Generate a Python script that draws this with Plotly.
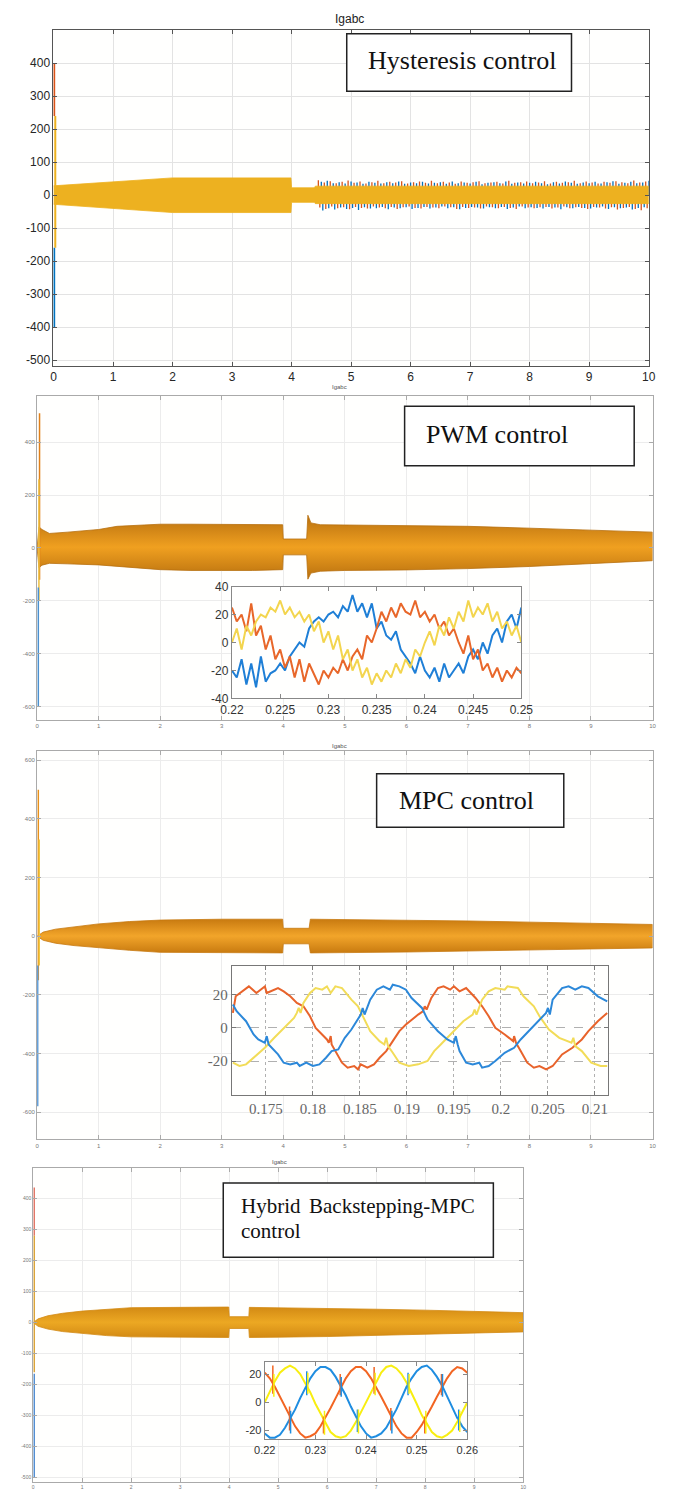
import numpy as np
import plotly.graph_objects as go

W, H = 679, 1497

# ----------------------------------------------------------------- data
main_xticks = [0, 1, 2, 3, 4, 5, 6, 7, 8, 9, 10]

# Panel 1 : Hysteresis control (envelope of the three currents)
hyst_env_t = [0.0, 2.0, 3.99, 4.0, 4.38, 4.4, 10.0]
hyst_env_up = [28, 52, 52, 22, 22, 27, 27]
hyst_env_lo = [-28, -53, -53, -22, -22, -26, -26]
hyst_noise_span = [4.45, 9.95]
hyst_red_top = [45, 38, 42, 36, 40, 44, 37, 41, 35, 39, 43, 36, 40, 38, 42, 35, 39, 41, 37, 43,
                36, 40, 38, 34, 41, 37, 39, 42, 36, 38, 40, 35, 43, 37, 39, 41, 36, 38, 42, 35,
                40, 37, 39, 43, 36, 41, 38, 35, 40, 37, 42, 39, 36, 44, 38, 41]
hyst_blue_top = [40, 43, 36, 39, 35, 41, 38, 34, 40, 37, 35, 39, 36, 41, 34, 38, 36, 40, 35, 37,
                 39, 34, 41, 36, 38, 35, 40, 33, 37, 39, 36, 41, 34, 38, 35, 37, 40, 36, 33, 39,
                 35, 41, 37, 34, 38, 36, 40, 35, 39, 42, 34, 37, 40, 36, 38, 43]
hyst_red_bot = [-38, -42, -35, -40, -37, -43, -36, -39, -41, -35, -38, -40, -36, -42, -37, -35,
                -39, -41, -36, -38, -40, -35, -37, -42, -36, -39, -38, -41, -35, -37, -40, -36,
                -39, -42, -35, -38, -40, -37, -36, -41, -38, -35, -40, -37, -39, -42, -36, -38,
                -41, -37, -44, -39, -36, -42, -46, -40]
hyst_blue_bot = [-47, -40, -44, -38, -42, -39, -45, -37, -41, -40, -36, -43, -38, -40, -37, -42,
                 -39, -36, -41, -38, -35, -40, -37, -43, -39, -36, -38, -41, -37, -40, -36, -42,
                 -38, -35, -40, -37, -39, -41, -36, -38, -43, -37, -40, -36, -39, -41, -38, -35,
                 -42, -37, -40, -38, -44, -39, -37, -45]
hyst_spike_red = [240, 400]
hyst_spike_yel = [-160, 240]
hyst_spike_blue = [-400, -160]

# Panel 2 : PWM control
pwm_env_t = [0.0, 0.03, 0.08, 0.2, 0.5, 1.0, 1.3, 1.6, 2.0, 2.5, 3.0, 3.5, 3.99, 4.0, 4.38,
             4.4, 4.45, 4.6, 5.0, 6.0, 7.0, 8.0, 9.0, 10.0]
pwm_env_up = [0, 80, 70, 55, 60, 70, 82, 85, 90, 90, 90, 90, 88, 34, 34,
              124, 95, 88, 87, 85, 82, 75, 68, 60]
pwm_env_lo = [0, -75, -65, -58, -60, -64, -70, -75, -82, -85, -85, -85, -82, -26, -26,
              -118, -95, -88, -85, -83, -78, -70, -60, -48]
pwm_spike_orange = [-120, 510]
pwm_spike_yel = [-200, 260]
pwm_spike_blue = [-600, -150]

pwm_in_span = [0.22, 0.25]
pwm_in_xticks = [0.22, 0.225, 0.23, 0.235, 0.24, 0.245, 0.25]
pwm_in_xtext = ["0.22", "0.225", "0.23", "0.235", "0.24", "0.245", "0.25"]
pwm_in_yticks = [-40, -20, 0, 20, 40]
pwm_in_blue = [-20, -25, -12, -30, -15, -32, -10, -28, -22, -20, -15, -20, -10, -5, 0, -3, 10,
               15, 18, 15, 20, 22, 18, 26, 22, 34, 22, 28, 18, 28, 10, 15, 5, 2, 8, -5, -10,
               -15, -22, -10, -20, -25, -18, -28, -15, -25, -20, -15, -22, -10, -5, -12, 0, -8,
               5, 10, 0, 15, 20, 10, 25]
pwm_in_orange = [25, 15, 20, 8, 28, 5, 12, -5, 5, -12, -5, -18, -10, -25, -12, -28, -15, -22,
                 -30, -20, -25, -18, -22, -12, -20, -10, -5, -12, 5, 0, 10, 22, 15, 25, 18, 28,
                 22, 20, 30, 18, 22, 15, 20, 10, 15, 5, 10, 0, -8, 5, -12, -5, -20, -15, -25,
                 -18, -28, -20, -25, -18, -22]
pwm_in_yellow = [0, 10, -5, 12, 5, 15, 20, 18, 25, 22, 30, 20, 25, 18, 22, 15, 20, 8, 15, 0, 8,
                 -5, 5, -12, -5, -20, -12, -25, -18, -30, -22, -28, -20, -25, -15, -22, -12,
                 -18, -5, -10, 0, 8, -2, 12, 5, 18, 10, 22, 15, 30, 18, 25, 20, 28, 15, 22, 10,
                 15, 5, 12, 0]

# Panel 3 : MPC control
mpc_env_t = [0.0, 0.1, 0.3, 0.6, 1.0, 1.5, 2.0, 3.0, 3.99, 4.0, 4.42, 4.44, 5.0, 6.0, 7.0,
             8.0, 9.0, 10.0]
mpc_env_up = [0, 14, 24, 32, 42, 50, 55, 58, 58, 27, 27, 58, 57, 55, 52, 48, 44, 40]
mpc_env_lo = [0, -14, -24, -32, -40, -48, -55, -57, -57, -26, -26, -57, -56, -54, -50, -47,
              -44, -40]
mpc_spike_orange = [-150, 500]
mpc_spike_yel = [-100, 330]
mpc_spike_blue = [-580, -100]

mpc_in_span = [0.1714, 0.2114]
mpc_in_xticks = [0.175, 0.18, 0.185, 0.19, 0.195, 0.2, 0.205, 0.21]
mpc_in_xtext = ["0.175", "0.18", "0.185", "0.19", "0.195", "0.2", "0.205", "0.21"]
mpc_in_yticks = [-20, 0, 20]
mpc_in_orange_t = [0.1715, 0.1718, 0.1732, 0.1740, 0.1749, 0.1751, 0.1763, 0.1769, 0.1776,
                   0.1783, 0.1790, 0.1797, 0.1803, 0.1810, 0.1815, 0.1817, 0.1819, 0.1820,
                   0.1824, 0.1831, 0.1837, 0.1844, 0.1848, 0.1851, 0.1858, 0.1865, 0.1871,
                   0.1878, 0.1885, 0.1892, 0.1899, 0.1905, 0.1912, 0.1917, 0.1919, 0.1921,
                   0.1926, 0.1933, 0.1939, 0.1946, 0.1950, 0.1956, 0.1963, 0.1973, 0.1980,
                   0.1987, 0.1994, 0.2004, 0.2013, 0.2014, 0.2016, 0.2021, 0.2028, 0.2035,
                   0.2041, 0.2048, 0.2055, 0.2065, 0.2076, 0.2086, 0.2093, 0.2103, 0.2113]
mpc_in_orange = [9, 19, 25, 21, 25, 21, 24, 22, 19, 15, 13, 7, 0, -4, -7, -9, -5, -10, -14,
                 -21, -24, -23, -25, -22, -24, -22, -18, -14, -8, -2, 2, 5, 8, 10, 13, 11, 18,
                 24, 25, 23, 25, 22, 24, 18, 13, 7, 0, -4, -8, -5, -9, -14, -21, -24, -23, -25,
                 -23, -16, -12, -7, -2, 4, 9]
mpc_in_blue_t = [0.1715, 0.1719, 0.1729, 0.1737, 0.1742, 0.1749, 0.1751, 0.1753, 0.1763,
                 0.1769, 0.1776, 0.1783, 0.1786, 0.1793, 0.1800, 0.1807, 0.1814, 0.1820,
                 0.1827, 0.1834, 0.1841, 0.1848, 0.1851, 0.1853, 0.1855, 0.1861, 0.1868,
                 0.1875, 0.1882, 0.1885, 0.1892, 0.1899, 0.1905, 0.1916, 0.1922, 0.1933,
                 0.1943, 0.1950, 0.1952, 0.1954, 0.1956, 0.1963, 0.1970, 0.1977, 0.1980,
                 0.1987, 0.1994, 0.2004, 0.2014, 0.2021, 0.2031, 0.2041, 0.2048, 0.2050,
                 0.2052, 0.2055, 0.2065, 0.2072, 0.2079, 0.2086, 0.2093, 0.2103, 0.2113]
mpc_in_blue = [14, 10, 4, -4, -7, -9, -5, -10, -16, -21, -22, -21, -23, -21, -23, -22, -18,
               -14, -13, -6, -1, 5, 8, 12, 8, 17, 23, 25, 23, 26, 25, 23, 18, 12, 5, -2, -7,
               -9, -5, -10, -14, -21, -22, -21, -24, -23, -20, -15, -12, -7, -1, 5, 9, 12, 8,
               17, 24, 25, 23, 25, 24, 19, 16]
mpc_in_yellow_t = [0.1715, 0.1722, 0.1729, 0.1735, 0.1749, 0.1759, 0.1769, 0.1780, 0.1783,
                   0.1785, 0.1787, 0.1790, 0.1797, 0.1803, 0.1810, 0.1815, 0.1819, 0.1824,
                   0.1831, 0.1841, 0.1848, 0.1855, 0.1861, 0.1871, 0.1876, 0.1878, 0.1880,
                   0.1885, 0.1892, 0.1902, 0.1912, 0.1922, 0.1929, 0.1936, 0.1950, 0.1960,
                   0.1970, 0.1972, 0.1974, 0.1980, 0.1987, 0.1994, 0.2004, 0.2007, 0.2018,
                   0.2024, 0.2035, 0.2041, 0.2051, 0.2062, 0.2075, 0.2077, 0.2079, 0.2086,
                   0.2096, 0.2106, 0.2113]
mpc_in_yellow = [-21, -23, -22, -19, -12, -6, 0, 6, 9, 12, 9, 15, 21, 24, 23, 25, 21, 25, 24,
                 17, 13, 5, -2, -8, -10, -6, -11, -15, -21, -23, -22, -20, -14, -10, -2, 4, 8,
                 11, 8, 17, 22, 24, 23, 25, 24, 19, 13, 7, -1, -6, -9, -6, -11, -14, -21, -23,
                 -23]

# Panel 4 : Hybrid Backstepping-MPC control
hyb_env_t = [0.0, 0.1, 0.3, 0.6, 1.0, 1.5, 2.0, 3.0, 3.99, 4.0, 4.4, 4.41, 5.0, 6.0, 7.0,
             8.0, 9.0, 10.0]
hyb_env_up = [0, 12, 22, 30, 37, 43, 48, 49, 50, 19, 19, 49, 48, 46, 43, 40, 36, 32]
hyb_env_lo = [0, -12, -21, -29, -35, -42, -46, -47, -48, -19, -19, -48, -47, -45, -42, -38,
              -34, -30]
hyb_spike_red = [280, 435]
hyb_spike_yel = [-160, 280]
hyb_spike_blue = [-500, -165]

hyb_in_span = [0.22, 0.26]
hyb_in_xticks = [0.22, 0.23, 0.24, 0.25, 0.26]
hyb_in_xtext = ["0.22", "0.23", "0.24", "0.25", "0.26"]
hyb_in_yticks = [-20, 0, 20]
hyb_in_orange = [21, 17, 11, 4, -3, -10, -17, -22, -25, -24, -22, -17, -11, -4, 3, 10, 17, 22,
                 25, 25, 22, 17, 11, 4, -3, -10, -17, -22, -25, -25, -21, -16, -10, -3, 4, 11,
                 17, 22, 25, 24, 21]
hyb_in_blue = [-22, -25, -25, -23, -18, -12, -5, 3, 10, 17, 22, 25, 25, 23, 18, 12, 5, -3,
               -10, -17, -22, -25, -24, -22, -18, -12, -5, 3, 11, 17, 22, 25, 26, 23, 18, 12, 4,
               -3, -11, -17, -21]
hyb_in_yellow = [0, 8, 15, 21, 24, 26, 24, 20, 14, 7, -1, -8, -15, -21, -24, -25, -24, -20,
                 -14, -7, 1, 8, 15, 21, 25, 26, 24, 20, 14, 7, -1, -9, -15, -21, -24, -25, -23,
                 -20, -14, -7, 0]
hyb_sp_orange_t = [0.2216, 0.2249, 0.2316, 0.2349, 0.2416, 0.2449, 0.2516, 0.2549]
hyb_sp_orange_lo = [6, -20, -22, 5, 6, -20, -22, 5]
hyb_sp_orange_hi = [26, -3, -10, 20, 25, -4, -10, 20]
hyb_sp_blue_t = [0.2251, 0.2283, 0.2351, 0.2383, 0.2451, 0.2483, 0.2551, 0.2583]
hyb_sp_blue_lo = [-22, 5, 4, -21, -22, 5, 4, -20]
hyb_sp_blue_hi = [-6, 22, 18, -5, -6, 21, 20, -5]
hyb_sp_yel_t = [0.2218, 0.2285, 0.2318, 0.2385, 0.2418, 0.2485, 0.2518, 0.2585]
hyb_sp_yel_lo = [4, 6, -23, -22, 5, 6, -22, -21]
hyb_sp_yel_hi = [20, 21, -6, -5, 21, 20, -6, -6]

# ----------------------------------------------------------------- helpers
def pxx(x):
    return x / W

def pyy(y):
    return 1 - y / H

def band(t, up, lo):
    return list(t) + list(t)[::-1], list(up) + list(lo)[::-1]

def stems(ts, lo, hi):
    xs, ys = [], []
    for t, a, b in zip(ts, lo, hi):
        xs += [t, t, None]
        ys += [a, b, None]
    return xs, ys

fig = go.Figure()

def add_line(x, y, color, xa, ya, width=1.5):
    fig.add_trace(go.Scatter(x=x, y=y, mode="lines", line=dict(color=color, width=width),
                             xaxis=xa, yaxis=ya, hoverinfo="skip", showlegend=False))

def add_band(t, up, lo, xa, ya, edge, mid, solid=False):
    bx, by = band(t, up, lo)
    kw = dict(fillcolor=mid) if solid else dict(
        fillgradient=dict(type="vertical", colorscale=[[0, edge], [0.5, mid], [1, edge]]))
    fig.add_trace(go.Scatter(x=bx, y=by, mode="lines", fill="toself",
                             line=dict(color=edge, width=0.8), xaxis=xa, yaxis=ya,
                             hoverinfo="skip", showlegend=False, **kw))

# ---------------- panel 1
n = len(hyst_red_top)
tr = np.linspace(hyst_noise_span[0], hyst_noise_span[1], n)
tb = tr + 0.05
sx, sy = stems(tr, [0] * n, hyst_red_top)
add_line(sx, sy, "#D95319", "x", "y", 1.3)
sx, sy = stems(tb, [0] * n, hyst_blue_top)
add_line(sx, sy, "#0072BD", "x", "y", 1.3)
sx, sy = stems(tr + 0.025, [0] * n, hyst_red_bot)
add_line(sx, sy, "#D95319", "x", "y", 1.3)
sx, sy = stems(tb + 0.025, [0] * n, hyst_blue_bot)
add_line(sx, sy, "#0072BD", "x", "y", 1.3)
add_band(hyst_env_t, hyst_env_up, hyst_env_lo, "x", "y", "#EDB120", "#EDB120", solid=True)
add_line([0.012, 0.012], hyst_spike_red, "#D95319", "x", "y", 2)
add_line([0.03, 0.03], hyst_spike_yel, "#EDB120", "x", "y", 2)
add_line([0.012, 0.012], hyst_spike_blue, "#0072BD", "x", "y", 2)

# ---------------- panel 2
add_band(pwm_env_t, pwm_env_up, pwm_env_lo, "x2", "y2", "#B8700F", "#F0A020")
add_line([0.04, 0.04], pwm_spike_orange, "#E0801A", "x2", "y2", 1.5)
add_line([0.03, 0.03], pwm_spike_yel, "#EDC040", "x2", "y2", 1.5)
add_line([0.02, 0.02], pwm_spike_blue, "#4A90D0", "x2", "y2", 1.5)

tp = np.linspace(pwm_in_span[0], pwm_in_span[1], len(pwm_in_blue))
add_line(tp, pwm_in_blue, "#1F7FD6", "x3", "y3", 2)
add_line(tp, pwm_in_orange, "#E8672A", "x3", "y3", 2)
add_line(tp, pwm_in_yellow, "#F3D54E", "x3", "y3", 2)

# ---------------- panel 3
add_band(mpc_env_t, mpc_env_up, mpc_env_lo, "x4", "y4", "#C87A10", "#F2A52A")
add_line([0.02, 0.02], mpc_spike_orange, "#E8901A", "x4", "y4", 1.5)
add_line([0.035, 0.035], mpc_spike_yel, "#F0C840", "x4", "y4", 1.5)
add_line([0.01, 0.01], mpc_spike_blue, "#5A9AD8", "x4", "y4", 1.5)

add_line(mpc_in_orange_t, mpc_in_orange, "#E8632B", "x5", "y5", 2)
add_line(mpc_in_yellow_t, mpc_in_yellow, "#F2DC58", "x5", "y5", 2)
add_line(mpc_in_blue_t, mpc_in_blue, "#2C88D9", "x5", "y5", 2)

# ---------------- panel 4
add_band(hyb_env_t, hyb_env_up, hyb_env_lo, "x6", "y6", "#D38A14", "#ECA823")
add_line([0.02, 0.02], hyb_spike_red, "#E07060", "x6", "y6", 1.5)
add_line([0.02, 0.02], hyb_spike_yel, "#D9A030", "x6", "y6", 1.5)
add_line([0.02, 0.02], hyb_spike_blue, "#4A88D0", "x6", "y6", 1.5)

th = np.linspace(hyb_in_span[0], hyb_in_span[1], len(hyb_in_orange))
add_line(th, hyb_in_orange, "#F26522", "x7", "y7", 2)
add_line(th, hyb_in_blue, "#1F8DE0", "x7", "y7", 2)
add_line(th, hyb_in_yellow, "#F8EE10", "x7", "y7", 2)
sx, sy = stems(hyb_sp_orange_t, hyb_sp_orange_lo, hyb_sp_orange_hi)
add_line(sx, sy, "#F26522", "x7", "y7", 1.5)
sx, sy = stems(hyb_sp_blue_t, hyb_sp_blue_lo, hyb_sp_blue_hi)
add_line(sx, sy, "#1F8DE0", "x7", "y7", 1.5)
sx, sy = stems(hyb_sp_yel_t, hyb_sp_yel_lo, hyb_sp_yel_hi)
add_line(sx, sy, "#F8EE10", "x7", "y7", 1.5)

# ----------------------------------------------------------------- axes
def main_axes(x0, x1, y0, y1, yr, ytv, fs, fc, lc, gc, ax_id):
    xa = dict(domain=[pxx(x0), pxx(x1)], range=[0, 10], tickvals=main_xticks,
              ticktext=[str(v) for v in main_xticks], showgrid=True, gridcolor=gc,
              gridwidth=1, zeroline=False, showline=True, linecolor=lc, linewidth=1,
              mirror="ticks", ticks="inside", ticklen=4, tickcolor=lc,
              tickfont=dict(family="Liberation Sans, Arial", size=fs, color=fc),
              anchor="y" + ax_id)
    ya = dict(domain=[pyy(y1), pyy(y0)], range=yr, tickvals=ytv,
              ticktext=[str(v) for v in ytv], showgrid=True, gridcolor=gc, gridwidth=1,
              zeroline=False, showline=True, linecolor=lc, linewidth=1, mirror="ticks",
              ticks="inside", ticklen=4, tickcolor=lc,
              tickfont=dict(family="Liberation Sans, Arial", size=fs, color=fc),
              anchor="x" + ax_id)
    return xa, ya

def inset_axes(x0, x1, y0, y1, xr, xtv, xtt, yr, ytv, fs, fc, lc, family, ax_id,
               grid=False, griddash="dot"):
    xa = dict(domain=[pxx(x0), pxx(x1)], range=xr, tickvals=xtv, ticktext=xtt,
              showgrid=grid, gridcolor="#b0b0b0", griddash=griddash, zeroline=False,
              showline=True, linecolor=lc, linewidth=1.2, mirror="ticks", ticks="inside",
              ticklen=4, tickcolor=lc, tickfont=dict(family=family, size=fs, color=fc),
              anchor="y" + ax_id)
    ya = dict(domain=[pyy(y1), pyy(y0)], range=yr, tickvals=ytv,
              ticktext=[str(v) for v in ytv], showgrid=grid, gridcolor="#b0b0b0",
              griddash="dash", zeroline=False, showline=True, linecolor=lc, linewidth=1.2,
              mirror="ticks", ticks="inside", ticklen=4, tickcolor=lc,
              tickfont=dict(family=family, size=fs, color=fc), anchor="x" + ax_id)
    return xa, ya

ax = {}
ax["xaxis"], ax["yaxis"] = main_axes(43, 660, 23, 362, [-517, 501],
                                     [-500, -400, -300, -200, -100, 0, 100, 200, 300, 400],
                                     12, "#262626", "#555555", "#e3e3e3", "")
ax["xaxis"]["anchor"] = "y"
ax["yaxis"]["anchor"] = "x"
ax["xaxis2"], ax["yaxis2"] = main_axes(26, 664, 393, 720, [-652, 574],
                                       [-600, -400, -200, 0, 200, 400],
                                       6, "#777777", "#aaaaaa", "#ececec", "2")
ax["xaxis3"], ax["yaxis3"] = inset_axes(228, 528, 585, 698, pwm_in_span, pwm_in_xticks,
                                        pwm_in_xtext, [-40, 40], pwm_in_yticks, 12,
                                        "#333333", "#888888", "Liberation Sans, Arial", "3")
ax["xaxis4"], ax["yaxis4"] = main_axes(26, 664, 751, 1143, [-693, 632],
                                       [-600, -400, -200, 0, 200, 400, 600],
                                       6, "#777777", "#aaaaaa", "#ececec", "4")
ax["xaxis5"], ax["yaxis5"] = inset_axes(228, 618, 968, 1098, mpc_in_span, mpc_in_xticks,
                                        mpc_in_xtext, [-40.3, 37.3], mpc_in_yticks, 15,
                                        "#666666", "#777777", "Liberation Serif, serif", "5",
                                        grid=True)
ax["xaxis6"], ax["yaxis6"] = main_axes(22, 530, 1172, 1489, [-514, 498],
                                       [-500, -400, -300, -200, -100, 0, 100, 200, 300, 400],
                                       5, "#777777", "#aaaaaa", "#ececec", "6")
ax["xaxis7"], ax["yaxis7"] = inset_axes(262, 472, 1368, 1446, hyb_in_span, hyb_in_xticks,
                                        hyb_in_xtext, [-26.3, 28.4], hyb_in_yticks, 11,
                                        "#333333", "#888888", "Liberation Sans, Arial", "7")

# ----------------------------------------------------------------- boxes & titles
shapes, annos = [], []

def text_box(x0, y0, x1, y1):
    shapes.append(dict(type="rect", xref="paper", yref="paper", x0=pxx(x0), x1=pxx(x1),
                       y0=pyy(y1), y1=pyy(y0), line=dict(color="#222222", width=1.5),
                       fillcolor="white", layer="above"))

def text(x, y, s, size, family="Liberation Serif, Times New Roman, serif", color="#111111",
         xanchor="left"):
    annos.append(dict(x=pxx(x), y=pyy(y), xref="paper", yref="paper", text=s,
                      showarrow=False, xanchor=xanchor, yanchor="middle",
                      font=dict(family=family, size=size, color=color)))

text_box(347, 27, 580, 85)
text(367, 54, "Hysteresis control", 26)
text_box(407, 403, 645, 463)
text(427, 432, "PWM control", 26)
text_box(378, 774, 572, 828)
text(399, 801, "MPC control", 26)
text_box(219, 1187, 499, 1262)
text(235, 1210, "Hybrid", 21)
text(482, 1210, "Backstepping-MPC", 21, xanchor="right")
text(235, 1236, "control", 21)

text(350, 12, "Igabc", 12, family="Liberation Sans, Arial", color="#222222", xanchor="center")
text(340, 384, "Igabc", 6, family="Liberation Sans, Arial", color="#555555", xanchor="center")
text(340, 746, "Igabc", 6, family="Liberation Sans, Arial", color="#555555", xanchor="center")
text(277, 1166, "Igabc", 6, family="Liberation Sans, Arial", color="#555555", xanchor="center")

fig.update_layout(width=W, height=H, autosize=False, margin=dict(l=0, r=0, t=0, b=0),
                  paper_bgcolor="#ffffff", plot_bgcolor="#fffffe", showlegend=False,
                  shapes=shapes, annotations=annos, **ax)

fig.write_html("out.html")
